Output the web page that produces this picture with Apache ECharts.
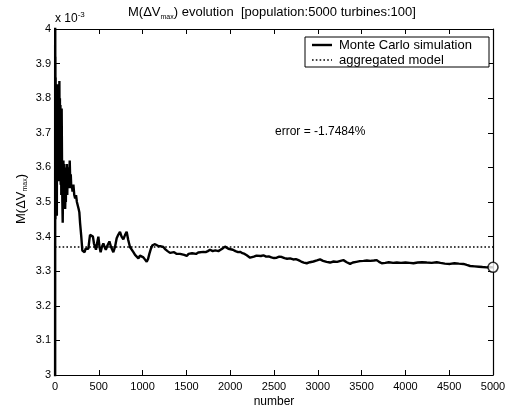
<!DOCTYPE html>
<html>
<head>
<meta charset="utf-8">
<script src="https://cdn.jsdelivr.net/npm/echarts@6/dist/echarts.min.js"></script>
<style>
  html, body { margin: 0; padding: 0; background: #fff; }
  #chart { width: 511px; height: 411px; }
</style>
</head>
<body>
<div id="chart"></div>
<script>
// Running mean of the Monte Carlo simulation (units of 1e-3)
const sampleNumber = [
  1, 2, 3, 4, 5, 7, 9, 11, 13, 15, 17, 19, 21, 23, 26, 29, 32, 35, 38, 41, 44, 47, 50, 53, 56, 59, 62, 65, 68, 72, 76, 80, 84, 88, 92, 96,
  100, 104, 108, 112, 116, 120, 124, 128, 132, 136, 140, 144, 150, 156, 162, 168, 174, 180, 186, 192, 200, 210, 220, 230, 240, 250, 260, 270, 278, 286, 293,
  300, 306, 312, 320, 330, 338, 350, 360, 372, 381, 392, 400, 412, 422, 433, 445, 456, 468, 480, 495, 508, 521, 535, 552, 566, 580,
  600, 621, 640, 654, 666, 685, 704, 722, 742, 760, 780, 800, 818, 836, 856, 875, 895, 914, 935, 952, 970, 990,
  1009, 1030, 1047, 1062, 1077, 1095, 1112, 1123, 1142, 1160, 1185, 1210, 1237, 1260, 1285, 1313, 1335, 1360, 1390, 1410, 1428, 1450, 1475,
  1504, 1525, 1542, 1565, 1580, 1610, 1635, 1656, 1694, 1720, 1745, 1770, 1800, 1830, 1865, 1890, 1915, 1941, 1960, 1979,
  2000, 2030, 2060, 2090, 2113, 2140, 2165, 2189, 2210, 2227, 2246, 2270, 2300, 2322, 2350, 2379, 2410, 2440, 2470,
  2500, 2531, 2560, 2590, 2620, 2650, 2684, 2720, 2750, 2779, 2810, 2840, 2874, 2910, 2950, 2990,
  3026, 3060, 3100, 3140, 3180, 3220, 3260, 3292, 3330, 3369, 3400, 3440, 3480, 3521, 3560, 3600, 3640, 3673, 3700, 3730, 3770, 3810, 3860, 3902, 3950,
  4000, 4050, 4092, 4140, 4190, 4244, 4300, 4358, 4400, 4450, 4510, 4560, 4610, 4662, 4700, 4739, 4790, 4840, 4880, 4929, 4965, 5000
];
const monteCarlo = [
  2.90, 4.08, 3.60, 3.92, 3.45, 3.86, 3.52, 3.80, 3.47, 3.83, 3.55, 3.76, 3.46, 3.80, 3.58, 3.84, 3.62, 3.78, 3.56, 3.72, 3.60, 3.75, 3.85, 3.66, 3.80, 3.60, 3.78, 3.55, 3.72, 3.52, 3.77, 3.62, 3.50, 3.44, 3.56, 3.62,
  3.52, 3.61, 3.50, 3.58, 3.48, 3.53, 3.50, 3.60, 3.57, 3.61, 3.52, 3.58, 3.55, 3.60, 3.54, 3.62, 3.56, 3.58, 3.54, 3.55, 3.53, 3.55, 3.52, 3.51, 3.52, 3.50, 3.49, 3.48, 3.47, 3.44, 3.42,
  3.40, 3.38, 3.36, 3.355, 3.36, 3.355, 3.365, 3.36, 3.37, 3.365, 3.39, 3.405, 3.40, 3.405, 3.40, 3.38, 3.385, 3.362, 3.38, 3.40, 3.37, 3.355, 3.37, 3.38, 3.37, 3.362,
  3.375, 3.386, 3.37, 3.365, 3.355, 3.37, 3.395, 3.405, 3.414, 3.40, 3.392, 3.405, 3.414, 3.39, 3.37, 3.365, 3.355, 3.347, 3.345, 3.337, 3.345, 3.342,
  3.34, 3.335, 3.327, 3.335, 3.35, 3.365, 3.375, 3.38, 3.378, 3.374, 3.372, 3.372, 3.37, 3.363, 3.358, 3.353, 3.35, 3.355, 3.35, 3.346, 3.35, 3.352, 3.347,
  3.344, 3.35, 3.347, 3.352, 3.353, 3.35, 3.354, 3.352, 3.356, 3.355, 3.358, 3.362, 3.358, 3.36, 3.358, 3.362, 3.366, 3.371, 3.372, 3.365,
  3.368, 3.362, 3.358, 3.355, 3.356, 3.352, 3.35, 3.346, 3.342, 3.339, 3.338, 3.342, 3.345, 3.347, 3.344, 3.346, 3.342, 3.343, 3.340,
  3.338, 3.339, 3.342, 3.341, 3.338, 3.336, 3.337, 3.334, 3.335, 3.332, 3.328, 3.325, 3.323, 3.326, 3.328, 3.331,
  3.334, 3.33, 3.327, 3.325, 3.328, 3.327, 3.33, 3.332, 3.326, 3.321, 3.325, 3.327, 3.329, 3.33, 3.331, 3.33, 3.331, 3.332, 3.327, 3.323, 3.324, 3.326, 3.324, 3.325, 3.324,
  3.325, 3.324, 3.323, 3.325, 3.326, 3.325, 3.324, 3.326, 3.324, 3.322, 3.321, 3.323, 3.322, 3.321, 3.318, 3.315, 3.314, 3.313, 3.312, 3.311, 3.312, 3.3112
];
// Aggregated model estimate (units of 1e-3)
const aggregatedRange = [0, 5000];
const aggregatedValue = 3.3701;

const errorText = 'error = -1.7484%';
const legendNames = ['Monte Carlo simulation', 'aggregated model'];

const FONT = '"Liberation Sans", Arial, Helvetica, sans-serif';

const mcData = sampleNumber.map((n, i) => [n, monteCarlo[i]]);
const aggData = aggregatedRange.map(n => [n, aggregatedValue]);
const lastPoint = mcData[mcData.length - 1];

const chart = echarts.init(document.getElementById('chart'), null, { renderer: 'canvas' });

const boxAxis = {
  axisLine: { show: true, onZero: false, lineStyle: { color: '#000', width: 1.2 } },
  axisTick: { show: true, inside: true, length: 5, lineStyle: { color: '#000', width: 1 } },
  splitLine: { show: false }
};

// Legend box drawn as plain shapes: frame, line samples, labels
const LX = 305, LY = 37, LW = 184, LH = 30;
const legendGraphics = [
  { type: 'rect', shape: { x: LX, y: LY, width: LW, height: LH },
    style: { fill: '#fff', stroke: '#000', lineWidth: 1 }, z: 10 },
  { type: 'line', shape: { x1: LX + 7, y1: LY + 8, x2: LX + 27, y2: LY + 8 },
    style: { stroke: '#000', lineWidth: 2.4 }, z: 11 },
  { type: 'line', shape: { x1: LX + 7, y1: LY + 23, x2: LX + 27, y2: LY + 23 },
    style: { stroke: '#000', lineWidth: 1.6, lineDash: [1.6, 2.2] }, z: 11 },
  { type: 'text', x: LX + 34, y: LY + 8, z: 11,
    style: { text: legendNames[0], fontFamily: FONT, fontSize: 13, fill: '#000', verticalAlign: 'middle' } },
  { type: 'text', x: LX + 34, y: LY + 23, z: 11,
    style: { text: legendNames[1], fontFamily: FONT, fontSize: 13, fill: '#000', verticalAlign: 'middle' } }
];

chart.setOption({
  animation: false,
  backgroundColor: '#fff',
  grid: { left: 55, right: 18, top: 29, bottom: 36, containLabel: false },
  xAxis: [
    Object.assign({
      type: 'value', min: 0, max: 5000, interval: 500, position: 'bottom',
      axisLabel: { color: '#000', fontFamily: FONT, fontSize: 11, margin: 6, formatter: v => String(v) }
    }, boxAxis),
    Object.assign({
      type: 'value', min: 0, max: 5000, interval: 500, position: 'top',
      axisLabel: { show: false }
    }, boxAxis)
  ],
  yAxis: [
    Object.assign({
      type: 'value', min: 3, max: 4, interval: 0.1, position: 'left',
      axisLabel: {
        color: '#000', fontFamily: FONT, fontSize: 11, margin: 4,
        formatter: v => String(Math.round(v * 10) / 10)
      }
    }, boxAxis),
    Object.assign({
      type: 'value', min: 3, max: 4, interval: 0.1, position: 'right',
      axisLabel: { show: false }
    }, boxAxis)
  ],
  series: [
    {
      name: legendNames[0], type: 'line', data: mcData,
      showSymbol: false, symbol: 'none', clip: true,
      lineStyle: { color: '#000', width: 2.4 },
      z: 3
    },
    {
      name: legendNames[1], type: 'line', data: aggData,
      showSymbol: false, symbol: 'none',
      lineStyle: { color: '#000', width: 1.6, type: [1.6, 2.2] },
      z: 2
    },
    {
      name: 'final', type: 'scatter', data: [lastPoint],
      symbol: 'circle', symbolSize: 10,
      itemStyle: { color: '#fff', borderColor: '#000', borderWidth: 1.6 },
      z: 4
    }
  ],
  graphic: legendGraphics.concat([
    {
      type: 'text', left: 128, top: 6,
      style: {
        text: '{a|M(ΔV}{s|max}{a|) evolution  [population:5000 turbines:100]}',
        rich: {
          a: { fontFamily: FONT, fontSize: 13, fill: '#000', lineHeight: 16 },
          s: { fontFamily: FONT, fontSize: 7, fill: '#000', lineHeight: 9, verticalAlign: 'bottom' }
        }
      }
    },
    {
      type: 'text', left: 55, top: 11,
      style: {
        text: '{a|x 10}{s|-3}',
        rich: {
          a: { fontFamily: FONT, fontSize: 12, fill: '#000', lineHeight: 16 },
          s: { fontFamily: FONT, fontSize: 8, fill: '#000', lineHeight: 7, verticalAlign: 'top' }
        }
      }
    },
    {
      type: 'text', x: 13, y: 224, rotation: Math.PI / 2,
      style: {
        text: '{a|M(ΔV}{s|max}{a|)}',
        rich: {
          a: { fontFamily: FONT, fontSize: 13, fill: '#000', lineHeight: 16 },
          s: { fontFamily: FONT, fontSize: 7, fill: '#000', lineHeight: 9, verticalAlign: 'bottom' }
        }
      }
    },
    {
      type: 'text', left: 275, top: 126,
      style: { text: errorText, fontFamily: FONT, fontSize: 12, fill: '#000' }
    },
    {
      type: 'text', x: 274, y: 402,
      style: { text: 'number', fontFamily: FONT, fontSize: 12, fill: '#000', align: 'center', verticalAlign: 'middle' }
    }
  ])
});
</script>
</body>
</html>
